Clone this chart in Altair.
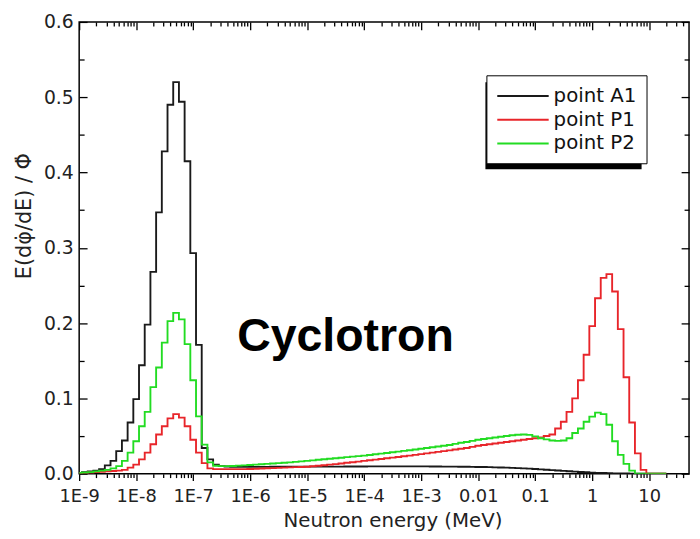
import json
import altair as alt
import pandas as pd

# ---------------- data ----------------
series_names = ["point A1", "point P1", "point P2"]
series_colors = ["#1a1a1a", "#e8252a", "#22dc22"]

# histogram values per 0.1-decade lethargy bin, bins centred at log10(E/MeV) = -9.0, -8.9, ... , 1.3
a1 = ([0.001, 0.002, 0.003, 0.004, 0.006, 0.011, 0.017, 0.030, 0.044, 0.068]
      + [0.099, 0.144, 0.198, 0.268, 0.347, 0.428, 0.490, 0.520, 0.494, 0.415]
      + [0.293, 0.171, 0.034, 0.019, 0.012, 0.010, 0.0095, 0.0092, 0.009, 0.009]
      + [0.009, 0.009, 0.009, 0.009, 0.0091, 0.0091, 0.0091, 0.0092, 0.0092, 0.0092]
      + [0.0093, 0.0093, 0.0093, 0.0094, 0.0094, 0.0094, 0.0094, 0.0095, 0.0095, 0.0095]
      + [0.0095, 0.0096, 0.0096, 0.0096, 0.0096, 0.0096, 0.0096, 0.0096, 0.0096, 0.0096]
      + [0.0096, 0.0096, 0.0095, 0.0095, 0.0094, 0.0094, 0.0093, 0.0092, 0.0091, 0.0090]
      + [0.0089, 0.0088, 0.0086, 0.0084, 0.0082, 0.0080, 0.0077, 0.0074, 0.0070, 0.0066]
      + [0.0062, 0.0057, 0.0052, 0.0047, 0.0042, 0.0037, 0.0032, 0.0027, 0.0022, 0.0018]
      + [0.0014, 0.0011, 0.0008, 0.0006, 0.0004, 0.0003, 0.0002, 0.0001, 0.0, 0.0]
      + [0.0, 0.0, 0.0, 0.0])

p1 = ([0.001, 0.001, 0.0015, 0.002, 0.0025, 0.003, 0.0035, 0.004, 0.005, 0.008]
      + [0.012, 0.019, 0.028, 0.039, 0.052, 0.063, 0.0735, 0.079, 0.0745, 0.063]
      + [0.045, 0.028, 0.014, 0.007, 0.006, 0.006, 0.006, 0.006, 0.006, 0.006]
      + [0.0062, 0.0065, 0.0068, 0.0071, 0.0074, 0.0077, 0.008, 0.0083, 0.0086, 0.0089]
      + [0.0092, 0.0098, 0.0105, 0.0112, 0.012, 0.0127, 0.0135, 0.0144, 0.0152, 0.016]
      + [0.017, 0.0178, 0.0186, 0.0195, 0.0204, 0.0213, 0.0222, 0.0231, 0.024, 0.025]
      + [0.026, 0.027, 0.028, 0.029, 0.030, 0.031, 0.032, 0.033, 0.034, 0.0355]
      + [0.037, 0.038, 0.039, 0.040, 0.041, 0.042, 0.043, 0.044, 0.045, 0.046]
      + [0.047, 0.048, 0.050, 0.052, 0.060, 0.069, 0.082, 0.100, 0.124, 0.158]
      + [0.196, 0.233, 0.260, 0.265, 0.242, 0.192, 0.128, 0.068, 0.027, 0.005]
      + [0.0, 0.0, 0.0, 0.0])

p2 = ([0.001, 0.0015, 0.002, 0.003, 0.004, 0.005, 0.007, 0.010, 0.017, 0.028]
      + [0.043, 0.063, 0.082, 0.115, 0.141, 0.174, 0.2026, 0.2136, 0.205, 0.172]
      + [0.124, 0.076, 0.0385, 0.015, 0.0105, 0.010, 0.010, 0.0102, 0.0106, 0.011]
      + [0.0115, 0.012, 0.0125, 0.013, 0.0135, 0.014, 0.0145, 0.015, 0.0157, 0.0163]
      + [0.017, 0.0177, 0.0184, 0.0191, 0.0198, 0.0205, 0.0212, 0.0219, 0.0226, 0.0233]
      + [0.024, 0.0248, 0.0257, 0.0266, 0.0275, 0.0284, 0.0293, 0.0302, 0.0311, 0.032]
      + [0.033, 0.034, 0.035, 0.036, 0.037, 0.038, 0.0395, 0.041, 0.042, 0.0435]
      + [0.045, 0.046, 0.047, 0.048, 0.049, 0.050, 0.051, 0.0517, 0.052, 0.0515]
      + [0.0495, 0.047, 0.0455, 0.044, 0.0435, 0.044, 0.047, 0.054, 0.060, 0.069]
      + [0.0757, 0.081, 0.079, 0.065, 0.043, 0.025, 0.013, 0.004, 0.0, 0.0]
      + [0.0, 0.0, 0.0, 0.0])

# bin centres (log10 of energy in MeV), 0.1 decade apart
log_e = [round(-9.0 + 0.1 * k, 1) for k in range(len(a1))]

x_major = [1e-9, 1e-8, 1e-7, 1e-6, 1e-5, 1e-4, 1e-3, 0.01, 0.1, 1, 10]
x_major_labels = ["1E-9", "1E-8", "1E-7", "1E-6", "1E-5", "1E-4", "1E-3", "0.01", "0.1", "1", "10"]
x_minor = [m * 10.0 ** d for d in range(-9, 2) for m in range(2, 10) if m * 10.0 ** d < 50]
y_major = [0.0, 0.1, 0.2, 0.3, 0.4, 0.5, 0.6]
y_minor = [0.05, 0.15, 0.25, 0.35, 0.45, 0.55]

annotation_text = ["Cyclotron"]
annotation_energy = [4.7e-5]
annotation_value = [0.163]

# ---------------- tables ----------------
rows = []
for name, vals in zip(series_names, [a1, p1, p2]):
    for le, v in zip(log_e, vals):
        rows.append({"series": name, "energy": 10.0 ** le, "value": v})
df = pd.DataFrame(rows)
ann = pd.DataFrame({"label": annotation_text, "energy": annotation_energy, "value": annotation_value})
one = pd.DataFrame({"k": [0]})

FONT = "DejaVu Sans"
x_scale = alt.Scale(type="log", domain=[1e-9, 50], nice=False)
y_scale = alt.Scale(domain=[0, 0.6], nice=False, zero=False)

label_expr = f"{json.dumps(x_major_labels)}[indexof({json.dumps(x_major)}, datum.value)]"

common = dict(grid=False, domain=False, tickColor="black", tickWidth=1.3)

bottom_major = alt.Axis(orient="bottom", values=x_major, labelExpr=label_expr, tickSize=7,
                        labelFont=FONT, labelFontSize=18, labelColor="#222", labelPadding=7,
                        labelFlush=False, labelOverlap=False,
                        title="Neutron energy (MeV)", titleFont=FONT, titleFontSize=20,
                        titleFontWeight="normal", titleColor="#222", titlePadding=5,
                        titleX=317, **common)
bottom_minor = alt.Axis(orient="bottom", values=x_minor, tickSize=4, labels=False, title=None, **common)
top_major = alt.Axis(orient="top", values=x_major, offset=-8, tickSize=8, labels=False, title=None, **common)
top_minor = alt.Axis(orient="top", values=x_minor, offset=-4, tickSize=4, labels=False, title=None, **common)

left_major = alt.Axis(orient="left", values=y_major, format=".1f", offset=-8, tickSize=8,
                      labelFont=FONT, labelFontSize=19, labelColor="#222", labelPadding=6,
                      labelFlush=False, labelOverlap=False,
                      title="E(dφ̇/dE) / Φ̇", titleFont=FONT, titleFontSize=21,
                      titleFontWeight="normal", titleColor="#222", titlePadding=9,
                      titleY=196, **common)
left_minor = alt.Axis(orient="left", values=y_minor, offset=-5, tickSize=5, labels=False, title=None, **common)
right_major = alt.Axis(orient="right", values=y_major, offset=-8, tickSize=8, labels=False, title=None, **common)
right_minor = alt.Axis(orient="right", values=y_minor, offset=-5, tickSize=5, labels=False, title=None, **common)

legend = alt.Legend(title=None, orient="none", legendX=412, legendY=54, direction="vertical",
                    symbolType="M-1,0H4.2", symbolSize=400, symbolStrokeWidth=2,
                    labelFont=FONT, labelFontSize=20, labelColor="#111", labelOffset=36,
                    rowPadding=3, padding=10, strokeColor="black", fillColor="white")


def axis_layer(xa, ya):
    return alt.Chart(df).mark_point(opacity=0).encode(
        x=alt.X("energy:Q", scale=x_scale, axis=xa),
        y=alt.Y("value:Q", scale=y_scale, axis=ya),
    )


shadow = alt.Chart(one).mark_rect(color="black").encode(
    x=alt.value(411), x2=alt.value(411 + 158), y=alt.value(61), y2=alt.value(61 + 88)
)

lines = alt.Chart(df).mark_line(interpolate="step", strokeWidth=1.9, clip=True).encode(
    x=alt.X("energy:Q", scale=x_scale, axis=bottom_major),
    y=alt.Y("value:Q", scale=y_scale, axis=left_major),
    color=alt.Color("series:N", scale=alt.Scale(domain=series_names, range=series_colors),
                    sort=series_names, legend=legend),
)

label = alt.Chart(ann).mark_text(font="Liberation Sans", fontSize=47, fontWeight="bold",
                                 align="center", baseline="alphabetic", color="black").encode(
    x=alt.X("energy:Q", scale=x_scale, axis=None),
    y=alt.Y("value:Q", scale=y_scale, axis=None),
    text="label:N",
)

chart = alt.layer(
    shadow,
    lines,
    axis_layer(bottom_minor, left_minor),
    axis_layer(top_major, right_major),
    axis_layer(top_minor, right_minor),
    label,
).resolve_axis(x="independent", y="independent").properties(
    width=617, height=457,
    padding={"left": 72, "top": 11, "right": 3, "bottom": 62},
    autosize=alt.AutoSizeParams(type="none"),
    background="white",
).configure_view(stroke="black", strokeWidth=1.5)

chart.save("out.html", embed_options={"renderer": "svg", "actions": False})
